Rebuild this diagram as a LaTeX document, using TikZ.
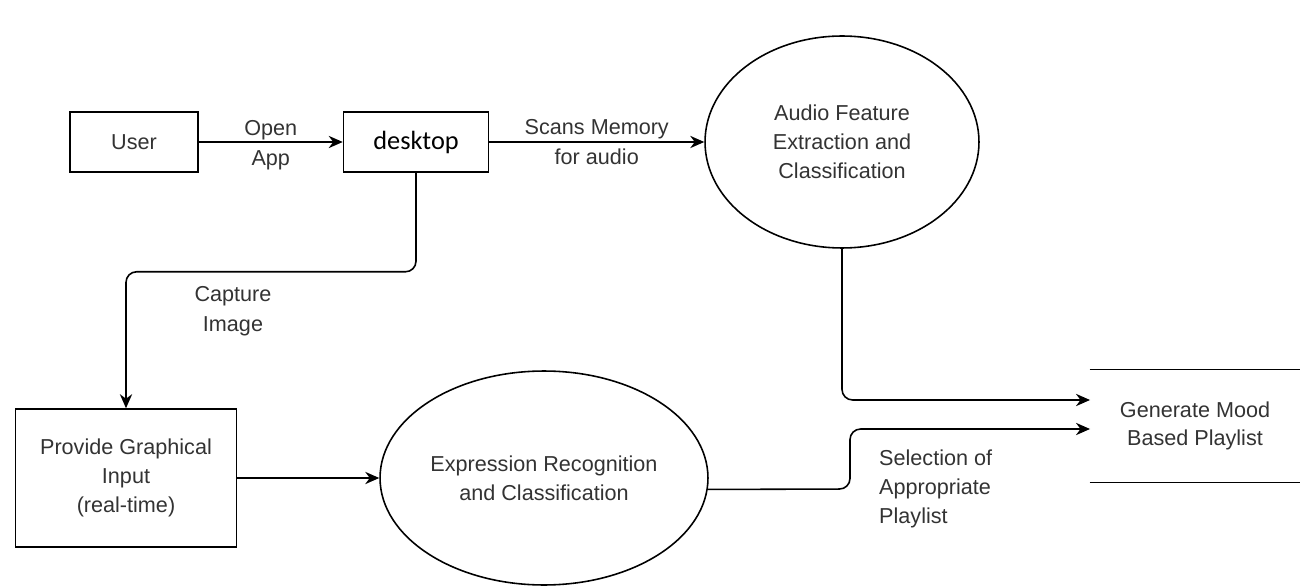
\documentclass[tikz,border=0pt]{standalone}
\usepackage{fontspec}
\setmainfont{Liberation Sans}
\newfontfamily\deskfont{Carlito}
\usetikzlibrary{arrows.meta,shapes.geometric}

\tikzset{
  flow/.style={line width=0.9pt, -{Stealth[length=8pt,width=7pt]}, rounded corners=6pt},
  procbox/.style={draw, line width=0.9pt, align=center, text=black!80},
  procell/.style={ellipse, draw, line width=0.9pt, align=center, text=black!80, inner sep=0pt},
  lbl/.style={align=center, text=black!80, font=\fontsize{12.3}{17}\selectfont}
}

\begin{document}
\begin{tikzpicture}[x=0.02cm, y=-0.02cm, font=\fontsize{12.3}{16.4}\selectfont]
    \useasboundingbox (0,0) rectangle (1300,587);

    \node[procbox, minimum width=2.56cm, minimum height=1.2cm] (user) at (134,142) {User};
    \node[procbox, minimum width=2.9cm, minimum height=1.2cm, font=\deskfont\fontsize{15}{17}\selectfont, text=black] (desk) at (416,142) {desktop};
    \node[procell, minimum width=5.48cm, minimum height=4.24cm] (audio) at (842,142) {Audio Feature\\Extraction and\\Classification};
    \node[procbox, minimum width=4.42cm, minimum height=2.76cm] (prov) at (126,478) {Provide Graphical\\Input\\(real-time)};
    \node[procell, minimum width=6.56cm, minimum height=4.28cm] (expr) at (544,478) {Expression Recognition\\and Classification};
    \node[align=center, text=black!80, minimum width=4.2cm, minimum height=2.24cm] (gen) at (1195,426) {Generate Mood\\Based Playlist};
    \draw[line width=0.9pt] (gen.north west) -- (gen.north east);
    \draw[line width=0.9pt] (gen.south west) -- (gen.south east);

    \coordinate (in1) at (1090,400);
    \coordinate (in2) at (1090,429);

    \draw[flow] (user) -- node[lbl, yshift=-2pt] {Open\\App} (desk);
    \draw[flow] (desk) -- node[lbl] {Scans Memory\\for audio} (audio);
    \draw[flow] (desk.south) -- ++(0,99) -| (prov.north);
    \node[lbl] (cap) at (233,311) {Capture\\Image};
    \draw[flow] (prov) -- (expr);
    \draw[flow] (audio.south) |- (in1);
    \draw[flow] (expr.-4) -- (850,489) -- (850,429) -- (in2);
    \node[lbl, align=left, anchor=west, font=\fontsize{12.3}{16.4}\selectfont] (sel) at (873,489) {Selection of\\Appropriate\\Playlist};
\end{tikzpicture}
\end{document}
